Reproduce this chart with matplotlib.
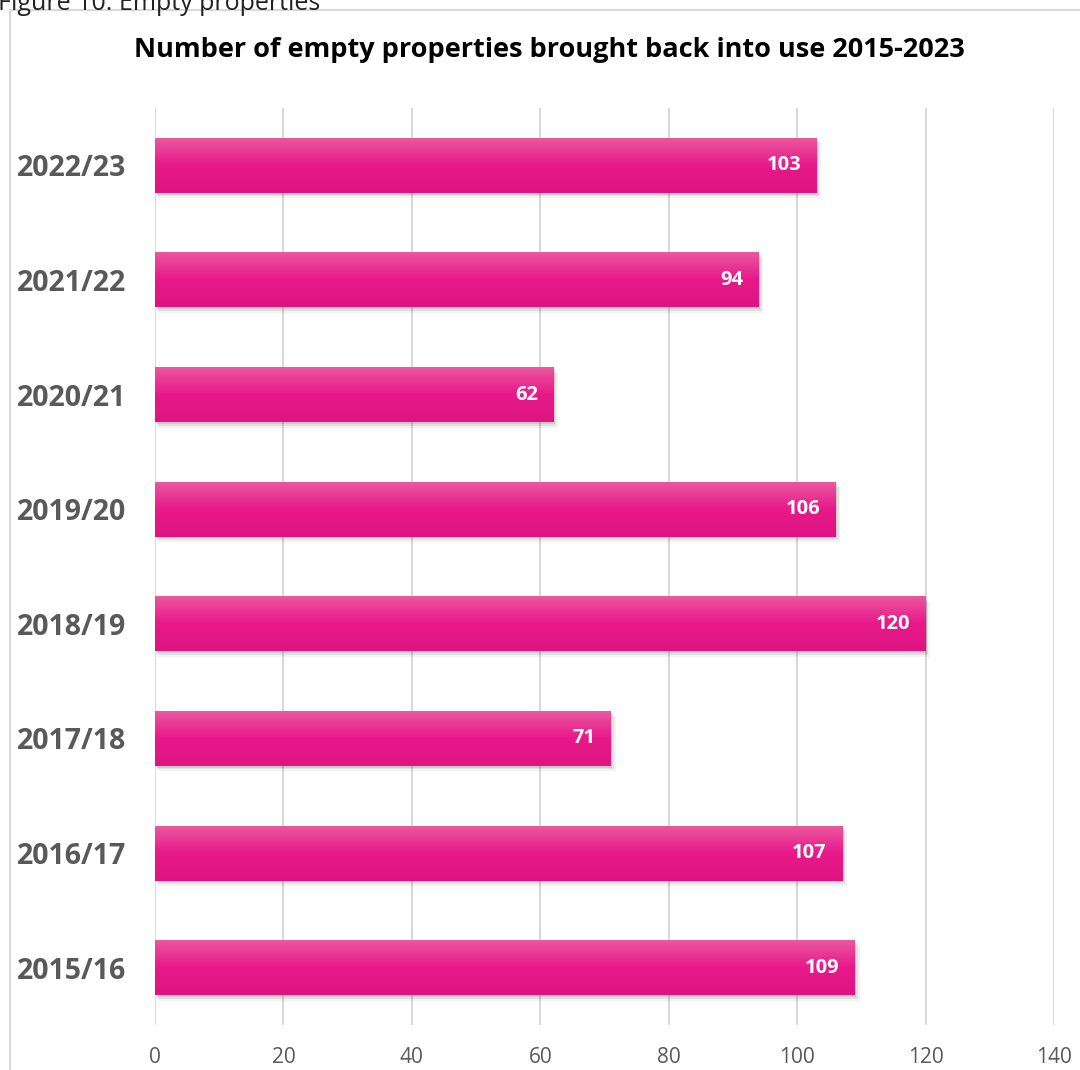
import numpy as np
import matplotlib.pyplot as plt
from matplotlib.colors import LinearSegmentedColormap
from matplotlib.patches import Rectangle

plt.rcParams['font.family'] = ['Open Sans', 'DejaVu Sans']

years = ['2015/16', '2016/17', '2017/18', '2018/19', '2019/20', '2020/21', '2021/22', '2022/23']
values = [109, 107, 71, 120, 106, 62, 94, 103]
xticks = [0, 20, 40, 60, 80, 100, 120, 140]

fig = plt.figure(figsize=(10.8, 10.7), dpi=100)
ax = fig.add_axes([155 / 1080, 1 - 1025 / 1070, (1054 - 155) / 1080, (1025 - 108) / 1070])

# chart frame (cut off at right and bottom like the source screenshot)
fig.patches.append(Rectangle((10 / 1080, -0.1), 1.2, 1 - 10 / 1070 + 0.1,
                             transform=fig.transFigure, fill=False,
                             edgecolor='#d9d9d9', linewidth=1.5))
# caption sits partly above the top edge, as in the screenshot
fig.text(-2 / 1080, 1 - 4 / 1070, 'Figure 10: Empty properties', fontsize=18,
         color='#222222', ha='left', va='center')
fig.text(549 / 1080, 1 - 50 / 1070, 'Number of empty properties brought back into use 2015-2023',
         fontsize=19.5, fontweight='bold', ha='center', va='center', color='black')

grad = LinearSegmentedColormap.from_list('pink', ['#ea5aa0', '#e8198a', '#de1482'])
y = np.arange(len(years))
h = 0.48
bars = ax.barh(y, values, height=h, color='#e8198a', zorder=3)
for yi, v, b in zip(y, values, bars):
    # soft shadow
    for k, a in [(0.8, 0.05), (0.5, 0.07), (0.25, 0.09)]:
        ax.add_patch(Rectangle((k * 0.5, yi - h / 2 - k * 0.06), v + k * 0.4, h, facecolor='#000000',
                               alpha=a, linewidth=0, zorder=2))
    im = ax.imshow(np.linspace(0, 1, 100).reshape(-1, 1), cmap=grad, aspect='auto',
                   extent=(0, v, yi - h / 2, yi + h / 2), origin='upper', zorder=3)
    im.set_clip_path(b)
    ax.text(v - 2.4, yi, str(v), color='white', fontweight='bold', fontsize=14.5,
            ha='right', va='center', zorder=4)

ax.set_xlim(0, 140)
ax.set_ylim(-0.5, len(years) - 0.5)
ax.set_xticks(xticks)
ax.set_yticks(y)
ax.set_yticklabels(years, fontsize=20.5, fontweight='bold', color='#595959')
ax.tick_params(axis='y', length=0, pad=21)
ax.tick_params(axis='x', length=0, pad=16, labelsize=15, labelcolor='#595959')
ax.xaxis.grid(True, color='#d9d9d9', linewidth=1.5, zorder=0)
ax.set_axisbelow(True)
for s in ax.spines.values():
    s.set_visible(False)

fig.savefig('out.png', dpi=100)
